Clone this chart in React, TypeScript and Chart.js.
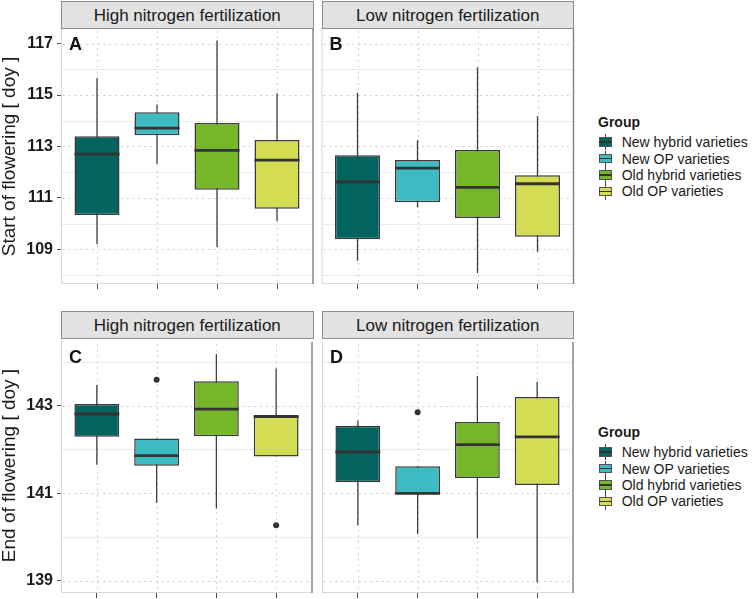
import React, { useEffect, useRef } from 'react';
import { Chart, registerables } from 'chart.js';

Chart.register(...registerables);

const FONT = "'Liberation Sans', Arial, Helvetica, sans-serif";

const groups = ['New hybrid varieties', 'New OP varieties', 'Old hybrid varieties', 'Old OP varieties'];
const groupColors = ['#02635f', '#3dbac2', '#76b72a', '#d4dc54'];
const groupPositions = [1, 2, 3, 4];

// Start of flowering axis
const startTicks = [109, 111, 113, 115, 117];
const startMinor = [108, 110, 112, 114, 116];
// End of flowering axis
const endTicks = [139, 141, 143];
const endMinor = [140, 142, 144];

// A: start, high N
const startHighMin = [109.2, 112.32, 109.08, 110.09];
const startHighQ1 = [110.33, 113.44, 111.32, 110.58];
const startHighMed = [112.7, 113.71, 112.85, 112.47];
const startHighQ3 = [113.4, 114.33, 113.91, 113.25];
const startHighMax = [115.65, 114.63, 117.12, 115.07];
const startHighOutX: number[] = [];
const startHighOutY: number[] = [];

// B: start, low N
const startLowMin = [108.55, 110.63, 108.07, 108.9];
const startLowQ1 = [109.39, 110.83, 110.22, 109.49];
const startLowMed = [111.62, 112.16, 111.41, 111.55];
const startLowQ3 = [112.66, 112.47, 112.86, 111.88];
const startLowMax = [115.08, 113.25, 116.08, 114.18];
const startLowOutX: number[] = [];
const startLowOutY: number[] = [];

// C: end, high N
const endHighMin = [141.65, 140.78, 140.65, 141.84];
const endHighQ1 = [142.29, 141.63, 142.3, 141.84];
const endHighMed = [142.81, 141.86, 142.92, 142.75];
const endHighQ3 = [143.04, 142.25, 143.56, 142.79];
const endHighMax = [143.47, 142.25, 144.18, 143.85];
const endHighOutX = [2, 4];
const endHighOutY = [143.59, 140.27];

// D: end, low N
const endLowMin = [140.27, 140.07, 139.97, 138.97];
const endLowQ1 = [141.25, 140.98, 141.35, 141.19];
const endLowMed = [141.94, 141.0, 142.11, 142.29];
const endLowQ3 = [142.54, 141.62, 142.63, 143.2];
const endLowMax = [142.66, 141.62, 143.68, 143.54];
const endLowOutX = [2];
const endLowOutY = [142.85];

const panelPlugin = {
  id: 'boxplotPanel',
  beforeDatasetsDraw(chart: any, _args: any, opts: any) {
    const { ctx, chartArea: a, scales } = chart;
    const x = scales.x;
    const y = scales.y;
    ctx.save();
    ctx.fillStyle = '#ffffff';
    ctx.fillRect(a.left, a.top, a.right - a.left, a.bottom - a.top);
    ctx.lineWidth = 1;
    ctx.strokeStyle = '#ebebeb';
    ctx.setLineDash([]);
    opts.minor.forEach((v: number) => {
      const py = Math.round(y.getPixelForValue(v)) + 0.5;
      ctx.beginPath();
      ctx.moveTo(a.left, py);
      ctx.lineTo(a.right, py);
      ctx.stroke();
    });
    ctx.strokeStyle = '#c4c4c4';
    ctx.setLineDash([1.6, 4.2]);
    opts.major.forEach((v: number) => {
      const py = Math.round(y.getPixelForValue(v)) + 0.5;
      ctx.beginPath();
      ctx.moveTo(a.left + 2, py);
      ctx.lineTo(a.right, py);
      ctx.stroke();
    });
    groupPositions.forEach((v) => {
      const px = Math.round(x.getPixelForValue(v)) + 0.5;
      ctx.beginPath();
      ctx.moveTo(px, a.top + 2);
      ctx.lineTo(px, a.bottom);
      ctx.stroke();
    });
    ctx.setLineDash([]);
    ctx.strokeStyle = '#3f3f3f';
    ctx.lineWidth = 1.3;
    groupPositions.forEach((v, i) => {
      const px = x.getPixelForValue(v);
      ctx.beginPath();
      ctx.moveTo(px, y.getPixelForValue(opts.lo[i]));
      ctx.lineTo(px, y.getPixelForValue(opts.hi[i]));
      ctx.stroke();
    });
    ctx.restore();
  },
  afterDatasetsDraw(chart: any, _args: any, opts: any) {
    const { ctx, chartArea: a, scales } = chart;
    const y = scales.y;
    const meta = chart.getDatasetMeta(0);
    ctx.save();
    ctx.strokeStyle = '#333333';
    ctx.lineWidth = 2.8;
    meta.data.forEach((bar: any, i: number) => {
      const py = y.getPixelForValue(opts.med[i]);
      ctx.beginPath();
      ctx.moveTo(bar.x - bar.width / 2, py);
      ctx.lineTo(bar.x + bar.width / 2, py);
      ctx.stroke();
    });
    // frame
    ctx.lineWidth = 1;
    ctx.strokeStyle = '#d9d9d9';
    ctx.beginPath();
    ctx.moveTo(a.left + 0.5, a.top);
    ctx.lineTo(a.left + 0.5, a.bottom - 0.5);
    ctx.lineTo(a.right, a.bottom - 0.5);
    ctx.stroke();
    ctx.lineWidth = 1.5;
    ctx.strokeStyle = '#858585';
    ctx.beginPath();
    ctx.moveTo(a.right, a.top);
    ctx.lineTo(a.right, a.bottom);
    ctx.stroke();
    // panel letter
    ctx.fillStyle = '#111111';
    ctx.font = `bold 18px ${FONT}`;
    ctx.textBaseline = 'alphabetic';
    ctx.textAlign = 'left';
    ctx.fillText(opts.letter, a.left + 8, a.top + 21);
    ctx.restore();
  },
};

type PanelProps = {
  left: number;
  top: number;
  width: number;
  height: number;
  padLeft: number;
  padRight: number;
  showY: boolean;
  yMin: number;
  yMax: number;
  yTicks: number[];
  yMinor: number[];
  lo: number[];
  q1: number[];
  med: number[];
  q3: number[];
  hi: number[];
  outX: number[];
  outY: number[];
  letter: string;
};

function BoxPanel(p: PanelProps) {
  const ref = useRef<HTMLCanvasElement | null>(null);
  useEffect(() => {
    if (!ref.current) return;
    const chart = new Chart(ref.current, {
      type: 'bar',
      data: {
        datasets: [
          {
            type: 'bar',
            data: groupPositions.map((x, i) => ({ x, y: [p.q1[i], p.q3[i]] })) as any,
            backgroundColor: groupColors,
            borderColor: '#3a3a3a',
            borderWidth: 1.5,
            borderSkipped: false,
            categoryPercentage: 1,
            barPercentage: 0.75,
            grouped: false,
          } as any,
          {
            type: 'scatter',
            data: p.outX.map((x, i) => ({ x, y: p.outY[i] })),
            pointRadius: 3,
            pointBackgroundColor: '#333333',
            pointBorderWidth: 0,
          } as any,
        ],
      },
      options: {
        animation: false,
        responsive: false,
        devicePixelRatio: 1,
        layout: { padding: { left: p.padLeft, right: p.padRight, top: 0, bottom: 0 } },
        plugins: {
          legend: { display: false },
          tooltip: { enabled: false },
          boxplotPanel: {
            major: p.yTicks,
            minor: p.yMinor,
            lo: p.lo,
            hi: p.hi,
            med: p.med,
            letter: p.letter,
          },
        } as any,
        scales: {
          x: {
            type: 'linear',
            min: 0.4,
            max: 4.6,
            offset: false,
            afterBuildTicks: (s: any) => {
              s.ticks = groupPositions.map((v) => ({ value: v }));
            },
            ticks: { display: false },
            grid: { drawOnChartArea: false, offset: false, tickLength: 5, tickColor: '#4d4d4d', tickWidth: 1 },
            border: { display: false },
            afterFit: (s: any) => {
              s.height = 8;
              s.paddingLeft = 0;
              s.paddingRight = 0;
            },
          },
          y: {
            type: 'linear',
            display: p.showY,
            min: p.yMin,
            max: p.yMax,
            afterBuildTicks: (s: any) => {
              s.ticks = p.yTicks.map((v) => ({ value: v }));
            },
            ticks: {
              font: { family: FONT, size: 16, weight: 'bold' },
              color: '#1a1a1a',
              padding: 4,
            },
            grid: { drawOnChartArea: false, tickLength: 4, tickColor: '#555555', tickWidth: 1 },
            border: { display: false },
            afterFit: (s: any) => {
              s.width = p.showY ? 61 : 0;
              s.paddingTop = 0;
              s.paddingBottom = 0;
            },
          },
        } as any,
      },
      plugins: [panelPlugin],
    });
    return () => chart.destroy();
  }, []);
  return (
    <canvas
      ref={ref}
      width={p.width}
      height={p.height}
      style={{ position: 'absolute', left: p.left, top: p.top, width: p.width, height: p.height }}
    />
  );
}

function Strip(props: { left: number; top: number; width: number; height: number; text: string }) {
  return (
    <div
      style={{
        position: 'absolute',
        left: props.left,
        top: props.top,
        width: props.width,
        height: props.height,
        boxSizing: 'border-box',
        border: '1px solid #8c8c8c',
        background: '#e2e2e2',
        color: '#1a1a1a',
        fontFamily: FONT,
        fontSize: 17,
        lineHeight: `${props.height - 2}px`,
        paddingTop: 1,
        textAlign: 'center',
        whiteSpace: 'nowrap',
      }}
    >
      {props.text}
    </div>
  );
}

function YTitle(props: { cy: number; text: string }) {
  const W = 300;
  const H = 21;
  const cx = 8.4;
  return (
    <div
      style={{
        position: 'absolute',
        left: cx - W / 2,
        top: props.cy - H / 2,
        width: W,
        height: H,
        lineHeight: `${H}px`,
        fontFamily: FONT,
        fontSize: 19,
        color: '#1a1a1a',
        textAlign: 'center',
        whiteSpace: 'nowrap',
        transform: 'rotate(-90deg)',
      }}
    >
      {props.text}
    </div>
  );
}

function Legend(props: { titleY: number }) {
  const itemH = 16.4;
  const firstY = props.titleY + 20.6;
  return (
    <>
      <div
        style={{
          position: 'absolute',
          left: 598,
          top: props.titleY - 9,
          height: 18,
          lineHeight: '18px',
          fontFamily: FONT,
          fontSize: 14,
          fontWeight: 'bold',
          color: '#1a1a1a',
          whiteSpace: 'nowrap',
        }}
      >
        Group
      </div>
      {groups.map((g, i) => {
        const cy = firstY + i * itemH;
        return (
          <React.Fragment key={g}>
            <div style={{ position: 'absolute', left: 599, top: cy - itemH / 2, width: 13, height: itemH }}>
              <div style={{ position: 'absolute', left: 5.9, top: 0, width: 1.2, height: itemH, background: '#444' }} />
              <div
                style={{
                  position: 'absolute',
                  left: 0,
                  top: 3.4,
                  width: 13,
                  height: 9.6,
                  boxSizing: 'border-box',
                  border: '1px solid #555',
                  background: groupColors[i],
                }}
              />
              <div style={{ position: 'absolute', left: 0, top: 7.4, width: 13, height: 1.6, background: '#333' }} />
            </div>
            <div
              style={{
                position: 'absolute',
                left: 621.7,
                top: cy - itemH / 2,
                height: itemH,
                lineHeight: `${itemH}px`,
                fontFamily: FONT,
                fontSize: 14,
                color: '#1a1a1a',
                whiteSpace: 'nowrap',
              }}
            >
              {g}
            </div>
          </React.Fragment>
        );
      })}
    </>
  );
}

export default function App() {
  return (
    <div style={{ position: 'absolute', left: 0, top: 0, width: 752, height: 599, background: '#ffffff', overflow: 'hidden' }}>
      <BoxPanel
        left={0} top={29} width={316} height={263} padLeft={0} padRight={3} showY={true}
        yMin={107.65} yMax={117.57} yTicks={startTicks} yMinor={startMinor}
        lo={startHighMin} q1={startHighQ1} med={startHighMed} q3={startHighQ3} hi={startHighMax}
        outX={startHighOutX} outY={startHighOutY} letter="A"
      />
      <BoxPanel
        left={318} top={29} width={259} height={263} padLeft={3.5} padRight={3.5} showY={false}
        yMin={107.65} yMax={117.57} yTicks={startTicks} yMinor={startMinor}
        lo={startLowMin} q1={startLowQ1} med={startLowMed} q3={startLowQ3} hi={startLowMax}
        outX={startLowOutX} outY={startLowOutY} letter="B"
      />
      <BoxPanel
        left={0} top={338} width={316} height={263} padLeft={0} padRight={3} showY={true}
        yMin={138.724} yMax={144.454} yTicks={endTicks} yMinor={endMinor}
        lo={endHighMin} q1={endHighQ1} med={endHighMed} q3={endHighQ3} hi={endHighMax}
        outX={endHighOutX} outY={endHighOutY} letter="C"
      />
      <BoxPanel
        left={318} top={338} width={259} height={263} padLeft={3.5} padRight={3.5} showY={false}
        yMin={138.724} yMax={144.454} yTicks={endTicks} yMinor={endMinor}
        lo={endLowMin} q1={endLowQ1} med={endLowMed} q3={endLowQ3} hi={endLowMax}
        outX={endLowOutX} outY={endLowOutY} letter="D"
      />
      <Strip left={61} top={1} width={252.5} height={28} text="High nitrogen fertilization" />
      <Strip left={321.5} top={1} width={252.5} height={28} text="Low nitrogen fertilization" />
      <Strip left={61} top={311} width={252.5} height={27.5} text="High nitrogen fertilization" />
      <Strip left={321.5} top={311} width={252.5} height={27.5} text="Low nitrogen fertilization" />
      <YTitle cy={156.5} text="Start of flowering [ doy ]" />
      <YTitle cy={465.7} text="End of flowering [ doy ]" />
      <Legend titleY={121.7} />
      <Legend titleY={431.7} />
    </div>
  );
}
